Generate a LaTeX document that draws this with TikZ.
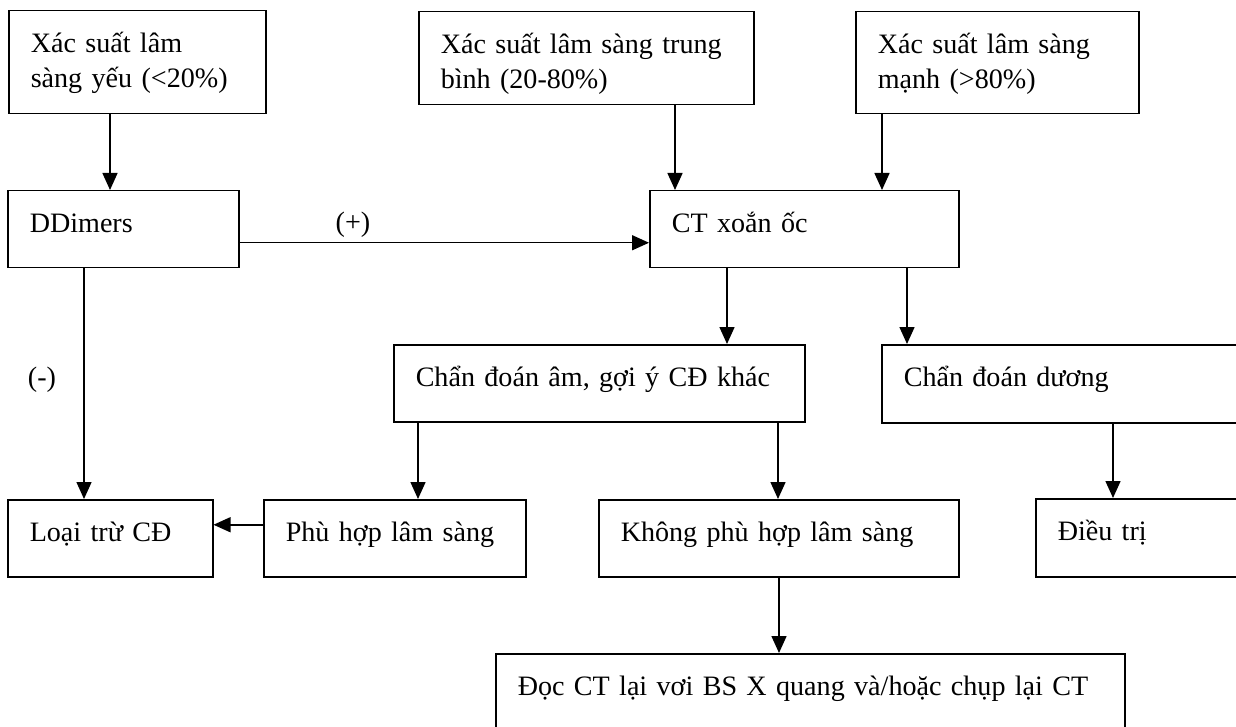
\documentclass[tikz,border=0pt]{standalone}
\usepackage{fontspec}
\setmainfont{Liberation Serif}
\usepackage{tikz}
\usetikzlibrary{arrows.meta}
\newcommand{\flowfont}{\fontsize{28.1}{35}\selectfont}
\tikzset{
  flowBox/.style={
    draw,
    line width=1.5pt,
    anchor=north west,
    align=left,
    font=\flowfont,
    inner xsep=22pt,
    inner ysep=12pt,
    text height=30pt
  },
  flowArrow/.style={-{Triangle[length=17pt,width=15pt]}, line width=1.5pt},
  flowLabel/.style={font=\flowfont, inner sep=0pt}
}
\begin{document}
\begin{tikzpicture}[x=1pt,y=-1pt]
  \clip (0,0) rectangle (1236,727);
  % top row
  \node[flowBox, text width=213pt, text depth=49pt] (weak) at (8,10)
    {Xác suất lâm\\sàng yếu (<20\%)};
  \node[flowBox, text width=291pt, text depth=39pt] (medium) at (418,11)
    {Xác suất lâm sàng trung\\bình (20-80\%)};
  \node[flowBox, text width=239pt, text depth=48pt] (strong) at (855,11)
    {Xác suất lâm sàng\\mạnh (>80\%)};
  % second row
  \node[flowBox, text width=187pt, text depth=23pt] (ddimer) at (7,190)
    {DDimers};
  \node[flowBox, text width=265pt, text depth=23pt] (ct) at (649,190)
    {CT xoắn ốc};
  % third row
  \node[flowBox, text width=367pt, text depth=23pt] (neg) at (393,344)
    {Chẩn đoán âm, gợi ý CĐ khác};
  \node[flowBox, text width=376pt, text depth=24pt] (pos) at (881,344)
    {Chẩn đoán dương};
  % fourth row
  \node[flowBox, text width=161pt, text depth=23pt] (excl) at (7,499)
    {Loại trừ CĐ};
  \node[flowBox, text width=218pt, text depth=23pt] (fit) at (263,499)
    {Phù hợp lâm sàng};
  \node[flowBox, text width=316pt, text depth=23pt] (nofit) at (598,499)
    {Không phù hợp lâm sàng};
  \node[flowBox, text width=256pt, text depth=24pt] (treat) at (1035,498)
    {Điều trị};
  % last box
  \node[flowBox, text width=585pt, text depth=66pt] (reread) at (495,653)
    {Đọc CT lại vơi BS X quang và/hoặc chụp lại CT};
  % labels
  \node[flowLabel] (plus) at (353,225) {(+)};
  \node[flowLabel] (minus) at (42,380) {(-)};
  % connectors
  \draw[flowArrow] ([xshift=102pt]weak.south west) -- ([xshift=103pt]ddimer.north west);
  \draw[flowArrow] ([xshift=257pt]medium.south west) -- ([xshift=26pt]ct.north west);
  \draw[flowArrow] ([xshift=27pt]strong.south west) -- ([xshift=233pt]ct.north west);
  \draw[flowArrow] ([yshift=-13.5pt]ddimer.east) -- ([yshift=-13.5pt]ct.west);
  \draw[flowArrow] ([xshift=77pt]ddimer.south west) -- ([xshift=77pt]excl.north west);
  \draw[flowArrow] ([xshift=78pt]ct.south west) -- ([xshift=334pt]neg.north west);
  \draw[flowArrow] ([xshift=258pt]ct.south west) -- ([xshift=26pt]pos.north west);
  \draw[flowArrow] ([xshift=25pt]neg.south west) -- ([xshift=155pt]fit.north west);
  \draw[flowArrow] ([xshift=385pt]neg.south west) -- ([xshift=180pt]nofit.north west);
  \draw[flowArrow] ([xshift=232pt]pos.south west) -- ([xshift=78pt]treat.north west);
  \draw[flowArrow] ([yshift=13.5pt]fit.west) -- ([yshift=13.5pt]excl.east);
  \draw[flowArrow] ([xshift=181pt]nofit.south west) -- ([xshift=284pt]reread.north west);
\end{tikzpicture}
\end{document}
